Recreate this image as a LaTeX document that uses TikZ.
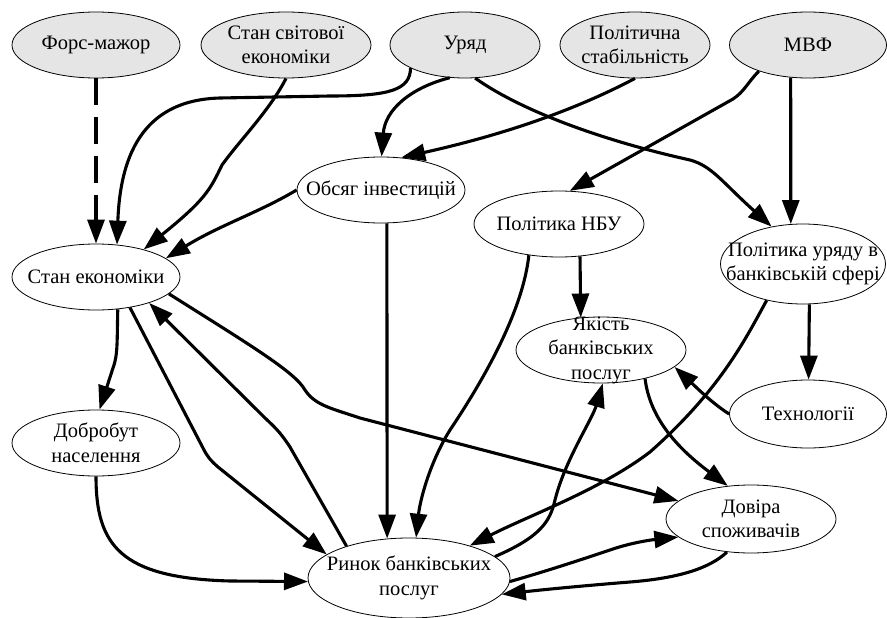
\documentclass[tikz,border=0pt]{standalone}
\usepackage{fontspec}
\setmainfont{Liberation Serif}
\usetikzlibrary{arrows.meta,shapes.geometric}
\begin{document}
\begin{tikzpicture}[x=1pt,y=-1pt,
 ell/.style={draw, ellipse, line width=0.8pt, inner sep=0pt},
 topell/.style={ell, fill=gray!20},
 lbl/.style={align=center, font=\fontsize{20.5}{24.5}\selectfont, inner sep=0pt},
 edge/.style={line width=3.1pt, -{Triangle[length=24pt,width=17pt]}},
]
\useasboundingbox (0,0) rectangle (887,618);

% nodes
\node[topell, minimum width=168pt, minimum height=66pt, label={[lbl]center:Форс-мажор}] (fm) at (96,45) {};
\node[topell, minimum width=170pt, minimum height=66pt, label={[lbl]center:{Стан світової\\економіки}}] (sw) at (286,45) {};
\node[topell, minimum width=150pt, minimum height=66pt, label={[lbl]center:Уряд}] (ur) at (465,45) {};
\node[topell, minimum width=150pt, minimum height=66pt, label={[lbl]center:{Політична\\стабільність}}] (ps) at (635,45) {};
\node[topell, minimum width=157pt, minimum height=66pt, label={[lbl]center:МВФ}] (mvf) at (808,45) {};
\node[ell, minimum width=168pt, minimum height=66pt, label={[lbl]center:Обсяг інвестицій}] (oi) at (381,190) {};
\node[ell, minimum width=170pt, minimum height=66pt, label={[lbl]center:Політика НБУ}] (nbu) at (559,224) {};
\node[ell, minimum width=165pt, minimum height=80pt, label={[lbl]center:{Політика уряду в\\банківській сфері}}] (pu) at (803,264) {};
\node[ell, minimum width=168pt, minimum height=66pt, label={[lbl]center:Стан економіки}] (se) at (96,277) {};
\node[ell, minimum width=170pt, minimum height=66pt, label={[lbl]center:{Якість\\банківських\\послуг}}] (yk) at (601,350) {};
\node[ell, minimum width=157pt, minimum height=68pt, label={[lbl]center:Технології}] (tech) at (808,414) {};
\node[ell, minimum width=168pt, minimum height=66pt, label={[lbl]center:{Добробут\\населення}}] (dob) at (96,443) {};
\node[ell, minimum width=170pt, minimum height=68pt, label={[lbl]center:{Довіра\\споживачів}}] (dov) at (751,519) {};
\node[ell, minimum width=202pt, minimum height=80pt, label={[lbl]center:{Ринок банківських\\послуг}}] (rin) at (409,578) {};

% edges
\draw[edge, dash pattern=on 27pt off 12pt] (fm.south) -- (se.north);
\draw[edge] (ur.203) .. controls (410,90) and (390,96) .. (330,96) -- (220,98) .. controls (140,100) and (120,160) .. (se.57);
\draw[edge] (sw.south) .. controls (270,110) and (240,140) .. (222,165) .. controls (210,190) and (205,200) .. (se.30);
\draw[edge] (oi.west) .. controls (260,212) and (220,225) .. (se.15);
\draw[edge] (ur.245) .. controls (410,88) and (385,110) .. (oi.89);
\draw[edge] (ps.south) .. controls (560,118) and (480,140) .. (oi.58);
\draw[edge] (ur.287) .. controls (520,110) and (600,140) .. (690,160) .. controls (712,166) and (722,182) .. (pu.130);
\draw[edge] (mvf.208) .. controls (748,82) and (744,92) .. (733,99) -- (nbu.72);
\draw[edge] (mvf.242) -- (pu.107);
\draw[edge] (nbu.303) -- (yk.122);
\draw[edge] (nbu.226) .. controls (522,320) and (470,400) .. (450,430) .. controls (430,462) and (420,500) .. (rin.80);
\draw[edge] (oi.280) -- (rin.119);
\draw[edge] (pu.225) .. controls (745,340) and (720,390) .. (650,452) .. controls (600,490) and (530,515) .. (rin.28);
\draw[edge] (pu.279) -- (tech.89);
\draw[edge] (tech.west) .. controls (712,403) and (697,388) .. (yk.347);
\draw[edge] (yk.327) .. controls (650,420) and (680,450) .. (dov.125);
\draw[edge] (rin.14) .. controls (540,537) and (550,522) .. (555,500) .. controls (565,460) and (592,420) .. (yk.273);
\draw[edge] (rin.358) .. controls (550,570) and (580,560) .. (610,550) .. controls (630,543) and (650,540) .. (dov.194);
\draw[edge] (dov.234) .. controls (710,568) and (680,578) .. (630,582) .. controls (580,586) and (540,590) .. (rin.350);
\draw[edge] (se.347) .. controls (250,345) and (295,372) .. (305,390) .. controls (315,405) and (330,408) .. (360,418) -- (dov.166);
\draw[edge] (se.304) .. controls (117,340) and (118,355) .. (113,368) -- (dob.84);
\draw[edge] (se.318) -- (203,448) .. controls (207,456) and (210,460) .. (218,467) -- (rin.164);
\draw[edge] (rin.153) -- (290,447) .. controls (282,435) and (278,430) .. (265,418) -- (se.334);
\draw[edge] (dob.south) .. controls (96,545) and (120,578) .. (230,581) -- (rin.182);
\end{tikzpicture}
\end{document}
